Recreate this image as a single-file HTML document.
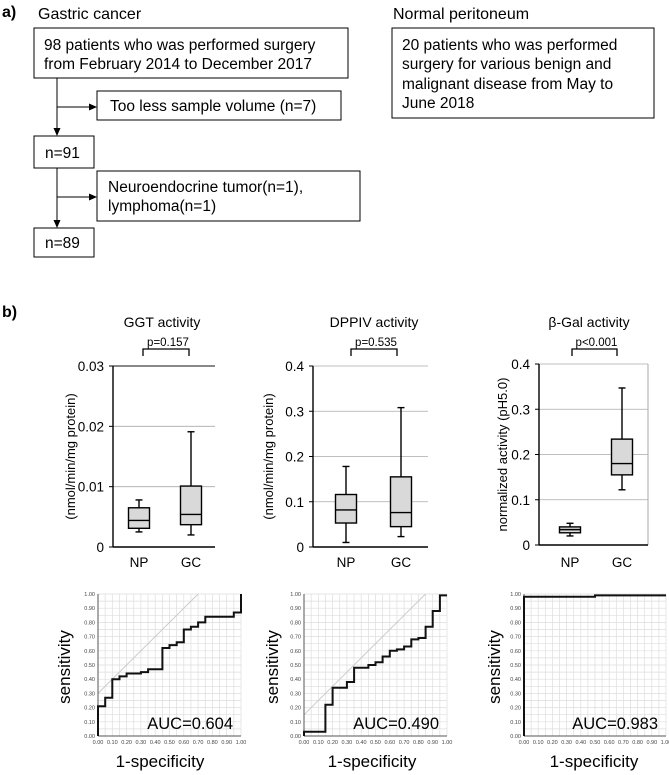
<!DOCTYPE html>
<html><head><meta charset="utf-8"><style>
html,body{margin:0;padding:0;background:#fff;}
svg{display:block;font-family:"Liberation Sans",Arial,sans-serif;}
</style></head><body>
<svg id="fig" width="669" height="775" viewBox="0 0 669 775">
<defs><marker id="arr" markerWidth="8" markerHeight="8" refX="7" refY="4" orient="auto"><path d="M0,0.5 L8,4 L0,7.5 z" fill="#000"/></marker></defs>
<g font-size="15.5" fill="#000">
 <text x="2" y="17" font-weight="bold" font-size="16">a)</text>
 <text x="38" y="19" font-size="16">Gastric cancer</text>
 <rect x="34" y="28" width="314" height="50" fill="none" stroke="#000"/>
 <text x="44" y="50">98 patients who was performed surgery</text>
 <text x="44" y="69">from February 2014 to December 2017</text>
 <line x1="57" y1="78" x2="57" y2="135" stroke="#000" marker-end="url(#arr)"/>
 <line x1="57" y1="107" x2="96" y2="107" stroke="#000" marker-end="url(#arr)"/>
 <rect x="97" y="91" width="244" height="29" fill="none" stroke="#000"/>
 <text x="110" y="111">Too less sample volume (n=7)</text>
 <rect x="34" y="136" width="60" height="32" fill="none" stroke="#000"/>
 <text x="45" y="158">n=91</text>
 <line x1="57" y1="168" x2="57" y2="227" stroke="#000" marker-end="url(#arr)"/>
 <line x1="57" y1="197" x2="96" y2="197" stroke="#000" marker-end="url(#arr)"/>
 <rect x="97" y="171" width="263" height="50" fill="none" stroke="#000"/>
 <text x="108" y="192">Neuroendocrine tumor(n=1),</text>
 <text x="108" y="211">lymphoma(n=1)</text>
 <rect x="34" y="228" width="60" height="29" fill="none" stroke="#000"/>
 <text x="45" y="248">n=89</text>
 <text x="393" y="19" font-size="16">Normal peritoneum</text>
 <rect x="392" y="28" width="262" height="90" fill="none" stroke="#000"/>
 <text x="402" y="50">20 patients who was performed</text>
 <text x="402" y="69">surgery for various benign and</text>
 <text x="402" y="89">malignant disease from May to</text>
 <text x="402" y="108">June 2018</text>
</g>
<text x="2" y="317" font-weight="bold" font-size="16">b)</text>
<g id="boxes"></g>
<g id="rocs"></g>
</svg>
<script>
// Box plot data: [min, q1, median, q3, max] for NP and GC
const boxTitles = ["GGT activity", "DPPIV activity", "β-Gal activity"];
const pValues = ["p=0.157", "p=0.535", "p<0.001"];
const yTitles = ["(nmol/min/mg protein)", "(nmol/min/mg protein)", "normalized activity (pH5.0)"];
const groups = ["NP", "GC"];
const ggtStats = [[0.0025, 0.0031, 0.0044, 0.0065, 0.0078], [0.002, 0.0037, 0.0054, 0.0101, 0.0191]];
const dppivStats = [[0.01, 0.053, 0.082, 0.116, 0.178], [0.023, 0.045, 0.076, 0.155, 0.308]];
const galStats = [[0.02, 0.027, 0.034, 0.04, 0.048], [0.122, 0.155, 0.18, 0.234, 0.347]];
const ggtTicks = [0, 0.01, 0.02, 0.03];
const dppivTicks = [0, 0.1, 0.2, 0.3, 0.4];
const galTicks = [0, 0.1, 0.2, 0.3, 0.4];
const ggtTickLabels = ["0", "0.01", "0.02", "0.03"];
const dppivTickLabels = ["0", "0.1", "0.2", "0.3", "0.4"];
const galTickLabels = ["0", "0.1", "0.2", "0.3", "0.4"];

// ROC data (vertices of step curves)
const roc1Fpr = [0,0,0.05,0.05,0.1,0.1,0.15,0.15,0.2,0.2,0.3,0.3,0.35,0.35,0.45,0.45,0.5,0.5,0.55,0.55,0.6,0.6,0.65,0.65,0.7,0.7,0.75,0.75,0.95,0.95,1,1];
const roc1Tpr = [0,0.21,0.21,0.27,0.27,0.40,0.40,0.42,0.42,0.44,0.44,0.45,0.45,0.47,0.47,0.62,0.62,0.64,0.64,0.66,0.66,0.75,0.75,0.77,0.77,0.80,0.80,0.84,0.84,0.87,0.87,1];
const roc2Fpr = [0,0,0.15,0.15,0.2,0.2,0.3,0.3,0.35,0.35,0.45,0.45,0.5,0.5,0.55,0.55,0.6,0.6,0.65,0.65,0.7,0.7,0.75,0.75,0.8,0.8,0.85,0.85,0.9,0.9,0.95,0.95,1];
const roc2Tpr = [0,0.03,0.03,0.22,0.22,0.34,0.34,0.38,0.38,0.48,0.48,0.50,0.50,0.52,0.52,0.56,0.56,0.60,0.60,0.61,0.61,0.63,0.63,0.68,0.68,0.69,0.69,0.77,0.77,0.88,0.88,0.99,0.99];
const roc3Fpr = [0,0,0.5,0.5,1];
const roc3Tpr = [0,0.98,0.98,0.99,0.99];
const aucLabels = ["AUC=0.604", "AUC=0.490", "AUC=0.983"];
const rocTicks = [0,0.1,0.2,0.3,0.4,0.5,0.6,0.7,0.8,0.9,1];

const NS = "http://www.w3.org/2000/svg";
function mk(parent, tag, attrs, text) {
  const e = document.createElementNS(NS, tag);
  for (const k in attrs) e.setAttribute(k, attrs[k]);
  if (text !== undefined) e.textContent = text;
  parent.appendChild(e);
  return e;
}
const boxG = document.getElementById("boxes");
const rocG = document.getElementById("rocs");

const boxLayouts = [
  {ax:113, right:215, top:366, bottom:547, max:0.03, cx:[139,191], br:[143,189], ylabX:70, titleX:162, stats:ggtStats, ticks:ggtTicks, labels:ggtTickLabels},
  {ax:313, right:428, top:366, bottom:547, max:0.4, cx:[346,401], br:[351,397], ylabX:268, titleX:374, stats:dppivStats, ticks:dppivTicks, labels:dppivTickLabels},
  {ax:539, right:648, top:364, bottom:545, max:0.4, cx:[570,622], br:[572,617], ylabX:502, titleX:589, stats:galStats, ticks:galTicks, labels:galTickLabels}
];
boxLayouts.forEach((L, i) => {
  const g = mk(boxG, "g", {});
  
  
  const y = v => L.bottom - (v / L.max) * (L.bottom - L.top);
  const t = mk(g, "text", {x: L.titleX, y: 327, "text-anchor": "middle", "font-size": 14}, boxTitles[i]);
  
  
  const p = mk(g, "text", {x: (L.br[0]+L.br[1])/2 + 2, y: 346, "text-anchor": "middle", "font-size": 11.5}, pValues[i]);
  
  
  const br = mk(g, "path", {d: `M${L.br[0]},356 V349 H${L.br[1]} V356`, fill: "none", stroke: "#000", "stroke-width": 1.3});
  
  
  L.ticks.forEach((tv, k) => {
    if (tv > 0) {
      const top = (k === L.ticks.length-1);
      const gl = mk(g, "line", {x1: L.ax, x2: L.right, y1: y(tv), y2: y(tv), stroke: (i===0 && top) ? "#888" : "#aaa", "stroke-width": (i===0 && top) ? 2 : 0.8});
      
      
    }
    mk(g, "line", {x1: L.ax-4, x2: L.ax, y1: y(tv), y2: y(tv), stroke: "#000"});
    const tl = mk(g, "text", {x: L.ax - 9, y: y(tv) + 5, "text-anchor": "end", "font-size": 13.5}, L.labels[k]);
    
    
  });
  if (i === 2) mk(g, "line", {x1: L.right, x2: L.right, y1: L.top, y2: L.bottom, stroke: "#aaa"});
  const yl = mk(g, "text", {x: 0, y: 0, transform: `translate(${L.ylabX + 5},${(L.top+L.bottom)/2}) rotate(-90)`, "text-anchor": "middle", "font-size": 13}, yTitles[i]);
  
  
  mk(g, "line", {x1: L.ax, x2: L.ax, y1: L.top, y2: L.bottom, stroke: "#000", "stroke-width": 1.4});
  mk(g, "line", {x1: L.ax, x2: L.right, y1: L.bottom, y2: L.bottom, stroke: "#000", "stroke-width": 1.4});
  L.stats.forEach((s, j) => {
    const cx = L.cx[j], hw = 10.5;
    const bg = mk(g, "g", {stroke: "#000", "stroke-width": 1.4});
    
    
    mk(bg, "line", {x1: cx, x2: cx, y1: y(s[0]), y2: y(s[4])});
    mk(bg, "line", {x1: cx-3.5, x2: cx+3.5, y1: y(s[0]), y2: y(s[0])});
    mk(bg, "line", {x1: cx-3.5, x2: cx+3.5, y1: y(s[4]), y2: y(s[4])});
    mk(bg, "rect", {x: cx-hw, y: y(s[3]), width: 2*hw, height: y(s[1]) - y(s[3]), fill: "#d9d9d9"});
    mk(bg, "line", {x1: cx-hw, x2: cx+hw, y1: y(s[2]), y2: y(s[2])});
    const gl = mk(g, "text", {x: cx, y: 567, "text-anchor": "middle", "font-size": 13.5}, groups[j]);
    
    
  });
});

const rocLayouts = [
  {x0:98, x1:241, ylab:64, xlab:160, fpr:roc1Fpr, tpr:roc1Tpr, diag:[0.3]},
  {x0:304, x1:447, ylab:272, xlab:372, fpr:roc2Fpr, tpr:roc2Tpr, diag:[0.15]},
  {x0:524, x1:666, ylab:494, xlab:594, fpr:roc3Fpr, tpr:roc3Tpr, diag:null}
];
const rTop = 594, rBot = 736;
rocLayouts.forEach((R, i) => {
  const g = mk(rocG, "g", {});
  
  
  const sx = v => R.x0 + v * (R.x1 - R.x0);
  const sy = v => rBot - v * (rBot - rTop);
  for (let k = 0; k <= 20; k++) {
    const v = k / 20;
    mk(g, "line", {x1: sx(v), x2: sx(v), y1: rTop, y2: rBot, stroke: "#ddd", "stroke-width": 0.7});
    mk(g, "line", {x1: R.x0, x2: R.x1, y1: sy(v), y2: sy(v), stroke: "#ddd", "stroke-width": 0.7});
  }
  if (R.diag) mk(g, "line", {x1: sx(0), y1: sy(R.diag[0]), x2: sx(1 - R.diag[0]), y2: sy(1), stroke: "#ccc", "stroke-width": 1});
  mk(g, "line", {x1: R.x0, x2: R.x0, y1: rTop, y2: rBot, stroke: "#555"});
  mk(g, "line", {x1: R.x0, x2: R.x1, y1: rBot, y2: rBot, stroke: "#555"});
  rocTicks.forEach(v => {
    const lab = v.toFixed(2);
    mk(g, "text", {x: sx(v), y: rBot + 8, "text-anchor": "middle", "font-size": 5.5, fill: "#444"}, lab);
    mk(g, "text", {x: R.x0 - 3, y: sy(v) + 2, "text-anchor": "end", "font-size": 5.5, fill: "#444"}, lab);
  });
  let d = "";
  R.fpr.forEach((f, k) => { d += (k ? "L" : "M") + sx(f).toFixed(1) + "," + sy(R.tpr[k]).toFixed(1); });
  const c = mk(g, "path", {d: d, fill: "none", stroke: "#111", "stroke-width": 2});
  
  
  const a = mk(g, "text", {x: R.x1 - 8, y: 729, "text-anchor": "end", "font-size": 16.5}, aucLabels[i]);
  
  
  const yl = mk(g, "text", {x: 0, y: 0, transform: `translate(${R.ylab + 6},${(rTop+rBot)/2 + 2}) rotate(-90)`, "text-anchor": "middle", "font-size": 17}, "sensitivity");
  
  
  const xl = mk(g, "text", {x: R.xlab, y: 767, "text-anchor": "middle", "font-size": 17}, "1-specificity");
  
  
});
</script>
</body></html>
